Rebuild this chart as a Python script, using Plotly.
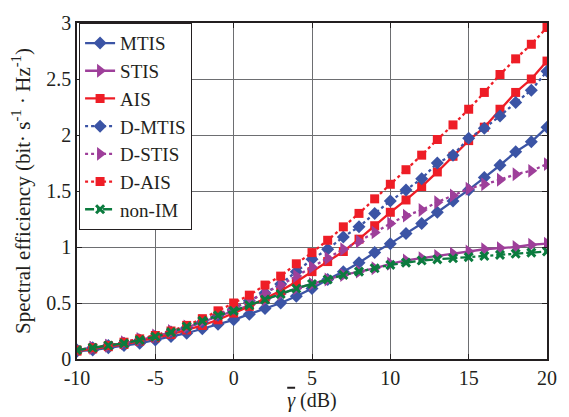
import plotly.graph_objects as go

snr_db = list(range(-10, 21))

mtis = [0.07, 0.08, 0.10, 0.12, 0.14, 0.17, 0.20, 0.23, 0.27, 0.31, 0.35, 0.40, 0.45, 0.50, 0.56, 0.63,
        0.71, 0.78, 0.86, 0.95, 1.03, 1.12, 1.21, 1.31, 1.41, 1.51, 1.62, 1.73, 1.85, 1.94, 2.07]
stis = [0.08, 0.10, 0.12, 0.14, 0.17, 0.20, 0.24, 0.28, 0.33, 0.38, 0.43, 0.48, 0.53, 0.58, 0.63, 0.67,
        0.71, 0.75, 0.78, 0.81, 0.85, 0.88, 0.90, 0.92, 0.94, 0.96, 0.98, 0.99, 1.00, 1.02, 1.03]
ais = [0.07, 0.09, 0.11, 0.13, 0.16, 0.19, 0.22, 0.26, 0.30, 0.35, 0.41, 0.47, 0.54, 0.61, 0.69, 0.78,
       0.87, 0.96, 1.07, 1.19, 1.31, 1.42, 1.54, 1.67, 1.81, 1.95, 2.07, 2.23, 2.38, 2.50, 2.66]
d_mtis = [0.08, 0.10, 0.12, 0.14, 0.17, 0.20, 0.24, 0.28, 0.33, 0.39, 0.45, 0.52, 0.59, 0.67, 0.78, 0.89,
          0.98, 1.09, 1.18, 1.30, 1.41, 1.51, 1.61, 1.75, 1.82, 1.97, 2.06, 2.17, 2.29, 2.40, 2.57]
d_stis = [0.08, 0.10, 0.12, 0.15, 0.18, 0.21, 0.25, 0.29, 0.34, 0.40, 0.46, 0.52, 0.59, 0.66, 0.74, 0.82,
          0.90, 0.98, 1.05, 1.13, 1.21, 1.28, 1.33, 1.40, 1.46, 1.52, 1.56, 1.60, 1.65, 1.68, 1.74]
d_ais = [0.08, 0.10, 0.12, 0.15, 0.18, 0.21, 0.25, 0.30, 0.36, 0.43, 0.50, 0.57, 0.66, 0.74, 0.85, 0.95,
         1.06, 1.18, 1.30, 1.43, 1.56, 1.69, 1.82, 1.96, 2.09, 2.23, 2.38, 2.54, 2.68, 2.81, 2.96]
non_im = [0.08, 0.10, 0.12, 0.14, 0.17, 0.20, 0.24, 0.29, 0.34, 0.39, 0.43, 0.48, 0.53, 0.58, 0.63, 0.67,
          0.71, 0.75, 0.78, 0.81, 0.84, 0.86, 0.88, 0.89, 0.90, 0.91, 0.92, 0.93, 0.94, 0.95, 0.96]

x_ticks = [-10, -5, 0, 5, 10, 15, 20]
x_tick_labels = ["-10", "-5", "0", "5", "10", "15", "20"]
y_ticks = [0, 0.5, 1, 1.5, 2, 2.5, 3]
y_tick_labels = ["0", "0.5", "1", "1.5", "2", "2.5", "3"]

BLUE = "#3B54A5"
PURPLE = "#9E3F9A"
RED = "#EE1D26"
GREEN = "#0B7B3E"
INK = "#231F20"

series = [
    ("MTIS", mtis, BLUE, "solid", "diamond", 10),
    ("STIS", stis, PURPLE, "solid", "triangle-right", 12),
    ("AIS", ais, RED, "solid", "square", 9),
    ("D-MTIS", d_mtis, BLUE, "dot", "diamond", 10),
    ("D-STIS", d_stis, PURPLE, "dot", "triangle-right", 12),
    ("D-AIS", d_ais, RED, "dot", "square", 9),
    ("non-IM", non_im, GREEN, "dashdot", "x-thin", 8),
]

fig = go.Figure()
for name, vals, color, dash, symbol, size in series:
    marker = dict(symbol=symbol, size=size, color=color)
    if symbol == "x-thin":
        marker["line"] = dict(color=color, width=3)
    else:
        marker["line"] = dict(color=color, width=0)
    fig.add_trace(go.Scatter(
        x=snr_db, y=vals, name=name, mode="lines+markers",
        line=dict(color=color, width=2.3, dash=dash),
        marker=marker,
    ))

font_family = "Liberation Serif, Times New Roman, serif"

fig.update_layout(
    width=569, height=417,
    margin=dict(l=77, r=18, t=13, b=53),
    paper_bgcolor="white", plot_bgcolor="white",
    font=dict(family=font_family, size=20, color=INK),
    showlegend=True,
    legend=dict(
        x=0.004, y=1.0, xanchor="left", yanchor="top",
        bgcolor="white", bordercolor=INK, borderwidth=1.2,
        font=dict(family=font_family, size=19, color=INK),
        itemwidth=30, tracegroupgap=0,
    ),
    xaxis=dict(
        range=[-10, 20], tickvals=x_ticks, ticktext=x_tick_labels,
        ticks="inside", ticklen=5, tickcolor=INK, tickfont=dict(size=20),
        showgrid=True, gridcolor="#6D6E71", gridwidth=1.2,
        showline=True, linecolor=INK, linewidth=1.5, mirror="ticks",
        zeroline=False,
        title=dict(text='<span style="text-decoration:overline"><i>γ</i></span> (dB)',
                   standoff=2, font=dict(size=20)),
    ),
    yaxis=dict(
        range=[0, 3], tickvals=y_ticks, ticktext=y_tick_labels,
        ticks="inside", ticklen=5, tickcolor=INK, tickfont=dict(size=20),
        showgrid=True, gridcolor="#6D6E71", gridwidth=1.2,
        showline=True, linecolor=INK, linewidth=1.5, mirror="ticks",
        zeroline=False,
        title=dict(text="Spectral efficiency (bit· s<sup>-1</sup> · Hz<sup>-1</sup>)",
                   standoff=10, font=dict(size=21)),
    ),
)

fig.write_html("out.html")
